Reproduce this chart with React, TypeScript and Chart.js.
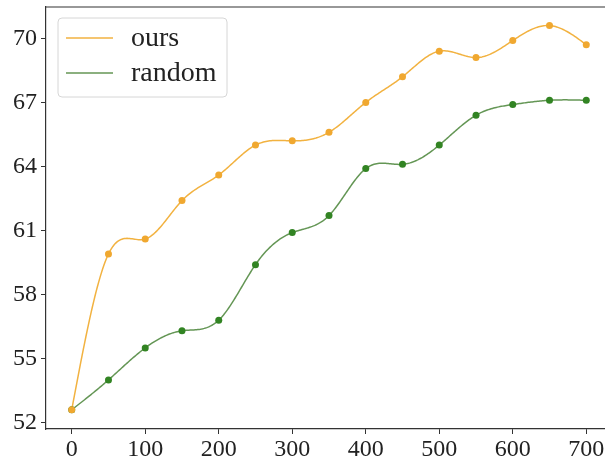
import React, { useEffect, useRef } from "react";
import { Chart, registerables } from "chart.js";

Chart.register(...registerables);

const steps = [0, 50, 100, 150, 200, 250, 300, 350, 400, 450, 500, 550, 600, 650, 700];
const oursValues = [52.6, 59.9, 60.6, 62.4, 63.6, 65.0, 65.2, 65.6, 67.0, 68.2, 69.4, 69.1, 69.9, 70.6, 69.7];
const randomValues = [52.6, 54.0, 55.5, 56.3, 56.8, 59.4, 60.9, 61.7, 63.9, 64.1, 65.0, 66.4, 66.9, 67.1, 67.1];
const xTicks = [0, 100, 200, 300, 400, 500, 600, 700];
const yTicks = [52, 55, 58, 61, 64, 67, 70];
const seriesLabels = ["ours", "random"];

const FONT = "'Liberation Serif', 'DejaVu Serif', serif";

// natural cubic spline second derivatives
function splineM(xs: number[], ys: number[]): number[] {
  const n = xs.length;
  const h: number[] = [];
  for (let i = 0; i < n - 1; i++) h.push(xs[i + 1] - xs[i]);
  const A: number[][] = [];
  const b: number[] = [];
  for (let i = 0; i < n; i++) {
    A.push(new Array(n).fill(0));
    b.push(0);
  }
  A[0][0] = 1;
  for (let i = 1; i < n - 1; i++) {
    A[i][i - 1] = h[i - 1];
    A[i][i] = 2 * (h[i - 1] + h[i]);
    A[i][i + 1] = h[i];
    b[i] = 6 * ((ys[i + 1] - ys[i]) / h[i] - (ys[i] - ys[i - 1]) / h[i - 1]);
  }
  A[n - 1][n - 1] = 1;
  for (let c = 0; c < n; c++) {
    let p = c;
    for (let r = c + 1; r < n; r++) if (Math.abs(A[r][c]) > Math.abs(A[p][c])) p = r;
    [A[c], A[p]] = [A[p], A[c]];
    [b[c], b[p]] = [b[p], b[c]];
    for (let r = c + 1; r < n; r++) {
      const f = A[r][c] / A[c][c];
      if (f === 0) continue;
      for (let j = c; j < n; j++) A[r][j] -= f * A[c][j];
      b[r] -= f * b[c];
    }
  }
  const M = new Array(n).fill(0);
  for (let r = n - 1; r >= 0; r--) {
    let s = b[r];
    for (let j = r + 1; j < n; j++) s -= A[r][j] * M[j];
    M[r] = s / A[r][r];
  }
  return M;
}

function splineEval(xs: number[], ys: number[], M: number[], x: number): number {
  let i = 0;
  while (i < xs.length - 2 && x > xs[i + 1]) i++;
  const h = xs[i + 1] - xs[i];
  const a = xs[i + 1] - x;
  const bb = x - xs[i];
  return (
    (M[i] * a * a * a) / (6 * h) +
    (M[i + 1] * bb * bb * bb) / (6 * h) +
    (ys[i] / h - (M[i] * h) / 6) * a +
    (ys[i + 1] / h - (M[i + 1] * h) / 6) * bb
  );
}

const splinePlugin = {
  id: "splineLines",
  beforeDatasetsDraw(chart: any) {
    const { ctx, chartArea, scales } = chart;
    ctx.save();
    ctx.beginPath();
    ctx.rect(chartArea.left, chartArea.top, chartArea.right - chartArea.left, chartArea.bottom - chartArea.top);
    ctx.clip();
    chart.data.datasets.forEach((ds: any) => {
      const xs = ds.data.map((d: any) => d.x);
      const ys = ds.data.map((d: any) => d.y);
      const M = splineM(xs, ys);
      const x0 = xs[0];
      const x1 = xs[xs.length - 1];
      const N = 400;
      ctx.beginPath();
      for (let s = 0; s <= N; s++) {
        const xv = x0 + ((x1 - x0) * s) / N;
        const yv = splineEval(xs, ys, M, xv);
        const px = scales.x.getPixelForValue(xv);
        const py = scales.y.getPixelForValue(yv);
        if (s === 0) ctx.moveTo(px, py);
        else ctx.lineTo(px, py);
      }
      ctx.strokeStyle = ds.borderColor;
      ctx.lineWidth = 1.5;
      ctx.lineJoin = "round";
      ctx.stroke();
    });
    ctx.restore();
  },
  afterDatasetsDraw(chart: any) {
    const { ctx, chartArea } = chart;
    ctx.save();
    // top spine
    ctx.strokeStyle = "#333";
    ctx.lineWidth = 1.2;
    ctx.beginPath();
    ctx.moveTo(chartArea.left, chartArea.top);
    ctx.lineTo(chartArea.right, chartArea.top);
    ctx.stroke();
    // legend
    const bx = chartArea.left + 12;
    const by = chartArea.top + 11;
    const bw = 169;
    const bh = 79;
    const r = 4;
    ctx.beginPath();
    ctx.moveTo(bx + r, by);
    ctx.lineTo(bx + bw - r, by);
    ctx.quadraticCurveTo(bx + bw, by, bx + bw, by + r);
    ctx.lineTo(bx + bw, by + bh - r);
    ctx.quadraticCurveTo(bx + bw, by + bh, bx + bw - r, by + bh);
    ctx.lineTo(bx + r, by + bh);
    ctx.quadraticCurveTo(bx, by + bh, bx, by + bh - r);
    ctx.lineTo(bx, by + r);
    ctx.quadraticCurveTo(bx, by, bx + r, by);
    ctx.closePath();
    ctx.fillStyle = "rgba(255,255,255,0.85)";
    ctx.fill();
    ctx.strokeStyle = "#d6d6d6";
    ctx.lineWidth = 1;
    ctx.stroke();
    chart.data.datasets.forEach((ds: any, i: number) => {
      const y = by + 20 + i * 35;
      ctx.beginPath();
      ctx.moveTo(bx + 8, y);
      ctx.lineTo(bx + 55, y);
      ctx.strokeStyle = ds.borderColor;
      ctx.lineWidth = 1.5;
      ctx.stroke();
      ctx.fillStyle = "#222";
      ctx.font = `28px ${FONT}`;
      ctx.textBaseline = "middle";
      ctx.textAlign = "left";
      ctx.fillText(ds.label, bx + 73, y + 1);
    });
    ctx.restore();
  },
};

export default function App() {
  const ref = useRef<HTMLCanvasElement | null>(null);
  useEffect(() => {
    document.body.style.margin = "0";
    const canvas = ref.current!;
    const chart = new Chart(canvas, {
      type: "line",
      data: {
        datasets: [
          {
            label: seriesLabels[0],
            data: steps.map((x, i) => ({ x, y: oursValues[i] })),
            borderColor: "rgb(242,178,64)",
            pointBackgroundColor: "rgb(240,168,48)",
            pointBorderColor: "rgb(240,168,48)",
            showLine: false,
            pointRadius: 3.5,
            pointBorderWidth: 0,
          },
          {
            label: seriesLabels[1],
            data: steps.map((x, i) => ({ x, y: randomValues[i] })),
            borderColor: "rgb(100,150,85)",
            pointBackgroundColor: "rgb(50,132,35)",
            pointBorderColor: "rgb(50,132,35)",
            showLine: false,
            pointRadius: 3.5,
            pointBorderWidth: 0,
          },
        ],
      },
      options: {
        responsive: false,
        animation: false,
        devicePixelRatio: 1,
        layout: { padding: { top: 7, right: 8, left: 0, bottom: 0 } },
        plugins: { legend: { display: false }, tooltip: { enabled: false } },
        scales: {
          x: {
            type: "linear",
            min: -35,
            max: 735,
            afterBuildTicks: (s: any) => {
              s.ticks = xTicks.map((v) => ({ value: v }));
            },
            afterFit: (s: any) => {
              s.height = 32;
              s.paddingLeft = 0;
              s.paddingRight = 0;
              s.paddingTop = 0;
              s.paddingBottom = 0;
            },
            grid: { drawOnChartArea: false, drawTicks: true, tickLength: 5, color: "#333" },
            border: { display: true, color: "#333", width: 1.2 },
            ticks: {
              font: { family: FONT, size: 24 },
              color: "#222",
              padding: 1,
              maxRotation: 0,
              autoSkip: false,
              callback: (v: any) => String(v),
            },
          },
          y: {
            type: "linear",
            min: 51.7,
            max: 71.47,
            afterBuildTicks: (s: any) => {
              s.ticks = yTicks.map((v) => ({ value: v }));
            },
            afterFit: (s: any) => {
              s.width = 46;
              s.paddingLeft = 0;
              s.paddingRight = 0;
              s.paddingTop = 0;
              s.paddingBottom = 0;
            },
            grid: { drawOnChartArea: false, drawTicks: true, tickLength: 5, color: "#333" },
            border: { display: true, color: "#333", width: 1.2 },
            ticks: {
              font: { family: FONT, size: 24 },
              color: "#222",
              padding: 4,
              autoSkip: false,
              callback: (v: any) => String(v),
            },
          },
        },
      },
      plugins: [splinePlugin],
    });
    return () => chart.destroy();
  }, []);
  return (
    <div style={{ position: "fixed", left: 0, top: 0, width: 605, height: 461, overflow: "hidden", background: "#fff" }}>
      <canvas ref={ref} width={620} height={461} style={{ width: 620, height: 461, display: "block" }} />
    </div>
  );
}
